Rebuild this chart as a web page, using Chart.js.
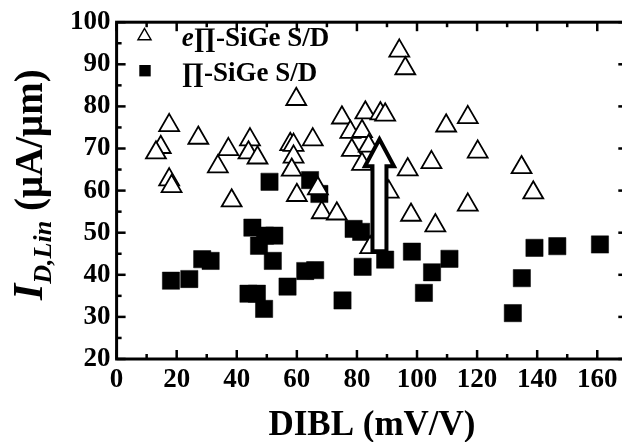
<!DOCTYPE html>
<html>
<head>
<meta charset="utf-8">
<script src="https://cdn.jsdelivr.net/npm/chart.js@4.4.0/dist/chart.umd.min.js"></script>
<style>
  html, body { margin: 0; padding: 0; background: #fff; overflow: hidden; }
  #wrap { width: 630px; height: 442px; }
</style>
</head>
<body>
<div id="wrap"><canvas id="diblChart" width="630" height="442"></canvas></div>
<script>
// e∏-SiGe S/D devices (open triangles)
const eSiGeDibl = [17.5, 27.2, 14.7, 13.1, 44.4, 37.2, 43.9, 46.9, 33.7, 17.5, 18.3, 38.3,
  94.1, 96.1, 59.8, 75.0, 82.8, 87.8, 89.4, 77.8, 81.7, 78.3, 83.9, 81.7, 65.3, 57.8,
  58.9, 58.9, 58.3, 60.0, 67.0, 68.3, 73.3, 96.9, 104.8, 116.9, 109.7, 120.2, 134.8,
  138.7, 116.9, 106.1, 98.0, 84.4, 90.6];
const eSiGeId = [75.5, 72.5, 70.3, 69.0, 72.1, 69.8, 69.0, 67.8, 65.7, 62.6, 61.0, 57.6,
  93.2, 89.0, 81.7, 77.3, 78.5, 78.3, 78.0, 73.9, 74.1, 69.6, 70.6, 66.3, 72.1, 71.0,
  70.8, 68.0, 64.9, 58.9, 60.5, 54.8, 54.5, 65.0, 66.7, 77.4, 75.4, 69.2, 65.5,
  59.5, 56.6, 51.7, 54.2, 46.5, 59.7];

// ∏-SiGe S/D devices (filled squares)
const siGeDibl = [18.1, 24.2, 28.5, 31.3, 43.9, 46.7, 49.1, 45.2, 47.4, 49.4, 52.5, 52.0,
  50.9, 56.9, 62.8, 66.1, 64.4, 67.5, 75.2, 78.9, 81.4, 81.9, 89.4, 98.3, 102.3, 105.0,
  110.8, 131.9, 134.9, 139.1, 146.7, 160.9];
const siGeId = [38.6, 39.0, 43.7, 43.3, 35.5, 35.5, 31.9, 51.2, 46.9, 49.3, 49.3, 43.3,
  62.1, 37.2, 40.9, 41.1, 62.5, 59.2, 33.9, 50.9, 50.2, 41.9, 43.6, 45.5, 35.7, 40.6,
  43.8, 30.9, 39.2, 46.4, 46.8, 47.2];

const seriesNames = ['e∏-SiGe S/D', '∏-SiGe S/D'];
const xTickLabels = [0, 20, 40, 60, 80, 100, 120, 140, 160];
const yTickLabels = [20, 30, 40, 50, 60, 70, 80, 90, 100];

// hollow arrow showing the drive current gain
const arrowDibl = 87.5;
const arrowFrom = 45.6;
const arrowTo = 72.2;

const SERIF = '"Liberation Serif", "Times New Roman", serif';
const tickFont = { family: SERIF, size: 27, weight: 'bold' };

const toPoints = (xs, ys) => xs.map((v, i) => ({ x: v, y: ys[i] }));
const onList = (list, v) => list.some(t => Math.abs(t - v) < 1e-6);

function line(ctx, x1, y1, x2, y2) {
  ctx.beginPath();
  ctx.moveTo(x1, y1);
  ctx.lineTo(x2, y2);
  ctx.stroke();
}

const decorations = {
  id: 'decorations',
  afterDatasetsDraw(chart) {
    const { ctx, scales: { x, y } } = chart;
    const ax = x.getPixelForValue(arrowDibl);
    const tip = y.getPixelForValue(arrowTo);
    const tail = y.getPixelForValue(arrowFrom);
    const headLen = 27, headHalf = 14.5, shaftHalf = 7;
    ctx.save();
    ctx.beginPath();
    ctx.moveTo(ax, tip);
    ctx.lineTo(ax + headHalf, tip + headLen);
    ctx.lineTo(ax + shaftHalf, tip + headLen);
    ctx.lineTo(ax + shaftHalf, tail);
    ctx.lineTo(ax - shaftHalf, tail);
    ctx.lineTo(ax - shaftHalf, tip + headLen);
    ctx.lineTo(ax - headHalf, tip + headLen);
    ctx.closePath();
    ctx.fillStyle = '#fff';
    ctx.fill();
    ctx.lineWidth = 4;
    ctx.strokeStyle = '#000';
    ctx.stroke();
    ctx.restore();
  },
  afterDraw(chart) {
    const { ctx, chartArea: a, scales: { x, y } } = chart;
    ctx.save();
    ctx.strokeStyle = '#000';
    ctx.fillStyle = '#000';

    // inward ticks on all four sides
    ctx.lineWidth = 2.5;
    for (let v = 0; v <= 170; v += 10) {
      const px = x.getPixelForValue(v);
      const len = v % 20 === 0 ? 9 : 5;
      line(ctx, px, a.bottom, px, a.bottom - len);
      line(ctx, px, a.top, px, a.top + len);
    }
    for (let v = 20; v <= 100; v += 5) {
      const py = y.getPixelForValue(v);
      const len = v % 10 === 0 ? 9 : 5;
      line(ctx, a.left, py, a.left + len, py);
      line(ctx, a.right, py, a.right - len, py);
    }
    ctx.lineWidth = 3;
    ctx.strokeRect(a.left, a.top, a.right - a.left, a.bottom - a.top);

    // axis titles
    ctx.textBaseline = 'alphabetic';
    ctx.textAlign = 'center';
    ctx.font = `bold 35px ${SERIF}`;
    ctx.fillText('DIBL (mV/V)', (a.left + a.right) / 2, 435);

    ctx.save();
    ctx.translate(42, 300);
    ctx.rotate(-Math.PI / 2);
    ctx.textAlign = 'left';
    let cx = 0;
    ctx.font = `italic bold 42px ${SERIF}`;
    ctx.fillText('I', cx, 0);
    cx += ctx.measureText('I').width;
    ctx.font = `italic bold 26px ${SERIF}`;
    ctx.fillText('D,Lin', cx, 9);
    cx += ctx.measureText('D,Lin').width;
    ctx.font = `bold 39px ${SERIF}`;
    ctx.fillText(' (μA/μm)', cx, 0);
    ctx.restore();

    // legend
    ctx.lineWidth = 1.5;
    ctx.beginPath();
    const tx = 144.5, ty = 36, tr = 7.5;
    ctx.moveTo(tx, ty - tr);
    ctx.lineTo(tx + tr * 0.866, ty + tr / 2);
    ctx.lineTo(tx - tr * 0.866, ty + tr / 2);
    ctx.closePath();
    ctx.fillStyle = '#fff';
    ctx.fill();
    ctx.stroke();
    ctx.fillStyle = '#000';
    ctx.fillRect(139.3, 65, 11.4, 11.4);

    ctx.textAlign = 'left';
    const lx = 181.7;
    ctx.font = `italic bold 27px ${SERIF}`;
    const pre = seriesNames[0].slice(0, 1);
    ctx.fillText(pre, lx, 46);
    const preW = ctx.measureText(pre).width;
    ctx.font = `bold 27px ${SERIF}`;
    ctx.fillText(seriesNames[0].slice(1), lx + preW, 46);
    ctx.fillText(seriesNames[1], lx, 81);
    ctx.restore();
  }
};

new Chart(document.getElementById('diblChart'), {
  type: 'scatter',
  data: {
    datasets: [{
      label: seriesNames[0],
      data: toPoints(eSiGeDibl, eSiGeId),
      pointStyle: 'triangle',
      pointRadius: 11.5,
      pointBackgroundColor: '#fff',
      pointBorderColor: '#000',
      pointBorderWidth: 1.8
    }, {
      label: seriesNames[1],
      data: toPoints(siGeDibl, siGeId),
      pointStyle: 'rect',
      pointRadius: 12.2,
      pointBackgroundColor: '#000',
      pointBorderColor: '#000',
      pointBorderWidth: 0.5
    }]
  },
  options: {
    responsive: false,
    devicePixelRatio: 1,
    animation: false,
    events: [],
    layout: { autoPadding: false, padding: { top: 15.7, right: 2.7, left: 0, bottom: 0 } },
    plugins: { legend: { display: false }, tooltip: { enabled: false } },
    scales: {
      x: {
        type: 'linear',
        min: 0,
        max: 170,
        grid: { display: false, drawTicks: false },
        border: { display: false },
        ticks: { stepSize: 20, includeBounds: false, padding: 5, color: '#000', font: tickFont, maxRotation: 0, autoSkip: false },
        afterBuildTicks: s => { s.ticks = s.ticks.filter(t => onList(xTickLabels, t.value)); },
        afterFit: s => { s.height = 83; }
      },
      y: {
        min: 20,
        max: 100,
        grid: { display: false, drawTicks: false },
        border: { display: false },
        ticks: { stepSize: 10, padding: 6, color: '#000', font: tickFont, autoSkip: false },
        afterBuildTicks: s => { s.ticks = s.ticks.filter(t => onList(yTickLabels, t.value)); },
        afterFit: s => { s.width = 116.6; }
      }
    }
  },
  plugins: [decorations]
});
</script>
</body>
</html>
